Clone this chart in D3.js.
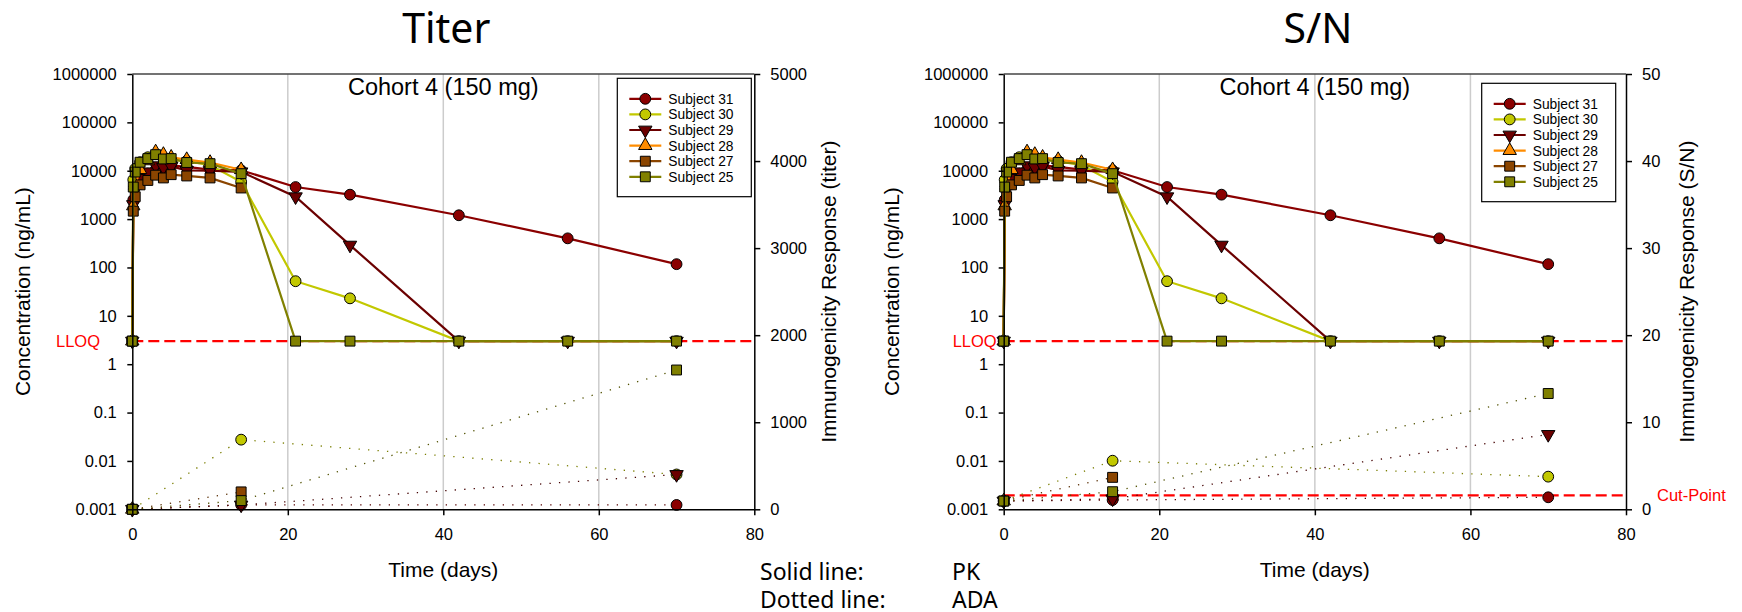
<!DOCTYPE html>
<html>
<head>
<meta charset="utf-8">
<script src="https://cdn.jsdelivr.net/npm/d3@7"></script>
<style>
  body { margin: 0; background: #fff; }
  svg text { font-family: "Liberation Sans", Arial, sans-serif; }
  .big { font-family: "Noto Sans", sans-serif !important; }
</style>
</head>
<body>
<div id="chart"></div>
<script>
var subjects = ['Subject 31', 'Subject 30', 'Subject 29', 'Subject 28', 'Subject 27', 'Subject 25'];
var shapes = ['circle', 'circle', 'triangleDown', 'triangleUp', 'square', 'square'];
var colors = ['#8b0000', '#c2c800', '#6b0000', '#ff8c00', '#8b4500', '#808000'];

// PK, ng/mL (values at LLOQ plotted as 3, null = not sampled)
var pkTimes = [0, 0.125, 0.375, 1, 2, 3, 4, 5, 7, 10, 14, 21, 28, 42, 56, 70];
var pk31 = [3, 2500, 5000, 7500, 8700, 10500, 11000, 12900, 12000, 10500, 10200, 4600, 3200, 1200, 400, 117];
var pk30 = [3, 6500, 11000, 15000, 19000, 22000, 19000, 17000, 16000, 13000, 5900, 52, 23, 3, 3, 3];
var pk29 = [3, 2000, 4000, 7000, 9500, 12700, 11700, 12300, 10200, 10000, 9500, 2900, 290, 3, 3, 3];
var pk28 = [3, 1870, 5000, 10500, 16000, 24500, 21700, 19000, 17000, 14800, 10500, null, null, null, null, null];
var pk27 = [3, 1460, 2900, 5100, 6300, 8100, 7100, 8300, 7800, 7100, 4400, null, null, null, null, null];
var pk25 = [3, 4600, 9400, 15000, 17800, 21500, 17500, 17800, 14800, 14000, 8700, 3, 3, 3, 3, 3];

// ADA
var adaTimes = [0, 14, 70];
var titer31 = [0, 50, 50];
var titer30 = [0, 800, 400];
var titer29 = [0, 50, 400];
var titer28 = [0];
var titer27 = [0, 200];
var titer25 = [0, 100, 1600];
var sn31 = [0.95, 1.07, 1.38];
var sn30 = [0.95, 5.58, 3.75];
var sn29 = [0.95, 1.2, 8.6];
var sn28 = [0.95];
var sn27 = [0.95, 3.67];
var sn25 = [0.95, 2.02, 13.3];

var lloq = 3;
var cutPoint = 1.6;

var concTicks = [0.001, 0.01, 0.1, 1, 10, 100, 1000, 10000, 100000, 1000000];
var concTickLabels = ['0.001', '0.01', '0.1', '1', '10', '100', '1000', '10000', '100000', '1000000'];
var timeTicks = [0, 20, 40, 60, 80];
var gridTimes = [20, 40, 60];
var titerTicks = [0, 1000, 2000, 3000, 4000, 5000];
var snTicks = [0, 10, 20, 30, 40, 50];

(function(window, d3) {
  'use strict';

  var pkAll = [pk31, pk30, pk29, pk28, pk27, pk25];
  var titerAll = [titer31, titer30, titer29, titer28, titer27, titer25];
  var snAll = [sn31, sn30, sn29, sn28, sn27, sn25];

  var top = 74, bottom = 509.3;

  var panels = [
    { title: 'Titer', x0: 132.3, x1: 754.3, rmax: 5000, rticks: titerTicks, ada: titerAll,
      rlabel: 'Immunogenicity Response (titer)', leftTitleX: 29.5, rightTitleX: 836,
      lloqX: 100, legX: 617.3, legY: 78.3, cut: null },
    { title: 'S/N', x0: 1003.7, x1: 1626, rmax: 50, rticks: snTicks, ada: snAll,
      rlabel: 'Immunogenicity Response (S/N)', leftTitleX: 899, rightTitleX: 1694,
      lloqX: 996.7, legX: 1481.7, legY: 83.3, cut: cutPoint }
  ];

  var svg = d3.select('#chart').append('svg')
    .attr('width', 1742).attr('height', 612);

  var symbolPath = function(shape) {
    if (shape === 'circle') return d3.symbol().type(d3.symbolCircle).size(92)();
    if (shape === 'square') return d3.symbol().type(d3.symbolSquare).size(98)();
    return d3.symbol().type(d3.symbolTriangle).size(78)();
  };

  var addMarker = function(g, shape, color, cx, cy) {
    g.append('path')
      .attr('d', symbolPath(shape))
      .attr('transform', 'translate(' + cx + ',' + cy + ')' + (shape === 'triangleDown' ? ' rotate(180)' : ''))
      .attr('fill', color)
      .attr('stroke', '#000')
      .attr('stroke-width', 1);
  };

  var drawPanel = function(p) {
    var x = d3.scaleLinear().domain([0, 80]).range([p.x0, p.x1]);
    var y = d3.scaleLog().domain([0.001, 1000000]).range([bottom, top]);
    var yr = d3.scaleLinear().domain([0, p.rmax]).range([bottom, top]);
    var g = svg.append('g');
    var cx = (p.x0 + p.x1) / 2;

    // grid
    g.append('g').selectAll('line')
      .data(gridTimes)
      .enter().append('line')
      .attr('x1', function(d) { return x(d); })
      .attr('x2', function(d) { return x(d); })
      .attr('y1', top).attr('y2', bottom)
      .attr('stroke', '#cccccc').attr('stroke-width', 1.5);

    // reference lines
    g.append('line')
      .attr('x1', p.x0).attr('x2', p.x1)
      .attr('y1', y(lloq)).attr('y2', y(lloq))
      .attr('stroke', '#ff0000').attr('stroke-width', 2.2)
      .attr('stroke-dasharray', '11,5');
    g.append('text')
      .attr('x', p.lloqX).attr('y', y(lloq) + 6)
      .attr('text-anchor', 'end')
      .attr('fill', '#ff0000')
      .style('font-size', '16.5px')
      .text('LLOQ');

    if (p.cut !== null) {
      g.append('line')
        .attr('x1', p.x0).attr('x2', p.x1)
        .attr('y1', yr(p.cut)).attr('y2', yr(p.cut))
        .attr('stroke', '#ff0000').attr('stroke-width', 2.2)
        .attr('stroke-dasharray', '11,5');
      g.append('text')
        .attr('x', p.x1 + 31).attr('y', yr(p.cut) + 6)
        .attr('fill', '#ff0000')
        .style('font-size', '16.5px')
        .text('Cut-Point');
    }

    // ADA dotted
    subjects.forEach(function(s, i) {
      var vals = p.ada[i];
      var pts = vals.map(function(v, k) { return [adaTimes[k], v]; });
      g.append('path')
        .datum(pts)
        .attr('fill', 'none')
        .attr('stroke', d3.color(colors[i]).darker(1.3))
        .attr('stroke-width', 1.3)
        .attr('stroke-dasharray', '1.3,8.2')
        .attr('d', d3.line()
          .x(function(d) { return x(d[0]); })
          .y(function(d) { return yr(d[1]); }));
    });
    subjects.forEach(function(s, i) {
      p.ada[i].forEach(function(v, k) {
        addMarker(g, shapes[i], colors[i], x(adaTimes[k]), yr(v));
      });
    });

    // PK solid
    subjects.forEach(function(s, i) {
      var pts = pkAll[i].map(function(v, k) { return [pkTimes[k], v]; })
        .filter(function(d) { return d[1] != null; });
      g.append('path')
        .datum(pts)
        .attr('fill', 'none')
        .attr('stroke', colors[i])
        .attr('stroke-width', 2.2)
        .attr('d', d3.line()
          .x(function(d) { return x(d[0]); })
          .y(function(d) { return y(d[1]); }));
      pts.forEach(function(d) {
        addMarker(g, shapes[i], colors[i], x(d[0]), y(d[1]));
      });
    });

    // frame top
    g.append('line')
      .attr('x1', p.x0).attr('x2', p.x1)
      .attr('y1', top).attr('y2', top)
      .attr('stroke', '#444').attr('stroke-width', 1.5);

    var styleAxis = function(a) {
      a.selectAll('path, line').attr('stroke', '#000').attr('stroke-width', 1.5);
      a.selectAll('text').style('font-size', '16.5px').attr('fill', '#000');
    };

    g.append('g')
      .attr('transform', 'translate(' + p.x0 + ',0)')
      .call(d3.axisLeft(y).tickValues(concTicks)
        .tickFormat(function(d, i) { return concTickLabels[i]; })
        .tickSize(5).tickSizeOuter(0).tickPadding(10.5))
      .call(styleAxis);

    g.append('g')
      .attr('transform', 'translate(' + p.x1 + ',0)')
      .call(d3.axisRight(yr).tickValues(p.rticks)
        .tickFormat(d3.format('d'))
        .tickSize(6).tickSizeOuter(0).tickPadding(10))
      .call(styleAxis);

    g.append('g')
      .attr('transform', 'translate(0,' + bottom + ')')
      .call(d3.axisBottom(x).tickValues(timeTicks)
        .tickSize(6).tickSizeOuter(0).tickPadding(13))
      .call(styleAxis);

    // titles
    g.append('text')
      .attr('transform', 'translate(' + p.leftTitleX + ',' + ((top + bottom) / 2) + ') rotate(-90)')
      .attr('text-anchor', 'middle')
      .style('font-size', '21px')
      .text('Concentration (ng/mL)');
    g.append('text')
      .attr('transform', 'translate(' + p.rightTitleX + ',' + ((top + bottom) / 2) + ') rotate(-90)')
      .attr('text-anchor', 'middle')
      .style('font-size', '21px')
      .text(p.rlabel);
    g.append('text')
      .attr('x', cx).attr('y', 577)
      .attr('text-anchor', 'middle')
      .style('font-size', '21px')
      .text('Time (days)');
    g.append('text')
      .attr('x', cx).attr('y', 95)
      .attr('text-anchor', 'middle')
      .style('font-size', '23.5px')
      .text('Cohort 4 (150 mg)');
    g.append('text')
      .attr('class', 'big')
      .attr('x', cx + 3).attr('y', 43)
      .attr('text-anchor', 'middle')
      .style('font-size', '41px')
      .text(p.title);

    // legend
    var leg = g.append('g').attr('transform', 'translate(' + p.legX + ',' + p.legY + ')');
    leg.append('rect')
      .attr('width', 134).attr('height', 118.4)
      .attr('fill', '#fff').attr('stroke', '#000').attr('stroke-width', 1.2);
    subjects.forEach(function(s, i) {
      var ry = 20.5 + i * 15.6;
      leg.append('line')
        .attr('x1', 12).attr('x2', 44)
        .attr('y1', ry).attr('y2', ry)
        .attr('stroke', colors[i]).attr('stroke-width', 2.2);
      addMarker(leg, shapes[i], colors[i], 28, ry);
      leg.append('text')
        .attr('x', 51).attr('y', ry + 5)
        .style('font-size', '13.8px')
        .text(s);
    });
  };

  panels.forEach(drawPanel);

  // notes
  var notes = [['Solid line:', 'PK', 580], ['Dotted line:', 'ADA', 608]];
  notes.forEach(function(n) {
    svg.append('text').attr('class', 'big')
      .attr('x', 760).attr('y', n[2])
      .style('font-size', '23px').text(n[0]);
    svg.append('text').attr('class', 'big')
      .attr('x', 952).attr('y', n[2])
      .style('font-size', '23px').text(n[1]);
  });

})(window, window.d3);
</script>
</body>
</html>
